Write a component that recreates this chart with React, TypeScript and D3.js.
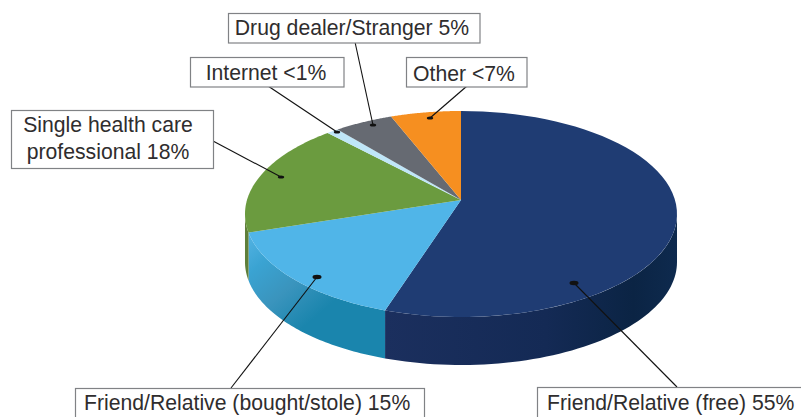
import React from "react";
import * as d3 from "d3";

const categories = ["Friend/Relative (free)", "Friend/Relative (bought/stole)", "Single health care professional", "Internet", "Drug dealer/Stranger", "Other"];
const values = [55, 15, 18, 1, 5, 6];
const topColors = ["#1f3c73", "#50b5e8", "#6b9b3f", "#bfe6f8", "#666a72", "#f68f20"];
const wallStops = [
  [["0", "#1b2f5e"], ["0.55", "#142a55"], ["0.85", "#0b2444"], ["1", "#0e2a4e"]],
  [["0", "#52b2e2"], ["0.22", "#3aa3d2"], ["0.5", "#3a94bd"], ["0.8", "#1a85ad"], ["1", "#1a85ad"]],
  [["0", "#5f7f3a"], ["1", "#5f7f3a"]],
  [["0", "#a5cfe0"], ["1", "#a5cfe0"]],
  [["0", "#50545a"], ["1", "#50545a"]],
  [["0", "#c87318"], ["1", "#c87318"]],
];
const labelLines = [
  ["Friend/Relative (free) 55%"],
  ["Friend/Relative (bought/stole) 15%"],
  ["Single health care", "professional 18%"],
  ["Internet <1%"],
  ["Drug dealer/Stranger 5%"],
  ["Other <7%"],
];

// annotation layout, same order as categories
const boxes = [
  { x: 537.5, y: 387.5, w: 270, h: 40 },
  { x: 75.5, y: 388.5, w: 349, h: 40 },
  { x: 11.5, y: 110.5, w: 202, h: 58 },
  { x: 190.5, y: 57.5, w: 153.5, h: 29.5 },
  { x: 228.5, y: 13.5, w: 251.5, h: 29.5 },
  { x: 406.5, y: 57.5, w: 120.5, h: 29.5 },
];
const textX = [547, 84, 108, 266, 352, 464];
const textY = [[410], [410], [131.5, 159], [80], [34.5], [81]];
const leaders = [
  [[677, 387], [574, 283]],
  [[231, 388], [317, 277]],
  [[213, 141], [281, 177]],
  [[268, 86], [337, 132]],
  [[355, 42], [373, 125]],
  [[467, 86], [430, 118]],
];
const wallGrad = [
  [385, 0, 677, 0],
  [250, 235, 335, 335],
  [245, 0, 262, 0],
  [330, 0, 340, 0],
  [340, 0, 391, 0],
  [391, 0, 461, 0],
];

const apexX = 461, apexY = 200;
const a = 214, b = 101.1, k = 0.1359;
const depth = 48;

// perspective projection of the unit disc onto the tilted pie plane
const project = (theta: number, r = 1): [number, number] => {
  const u = r * Math.sin(theta), v = -r * Math.cos(theta);
  const w = 1 - k * v;
  return [apexX + (a * u) / w, apexY + (b * v) / w];
};

// angles at which the projected rim is at its horizontal extremes
const rimRight = Math.acos(-k);
const rimLeft = 2 * Math.PI - rimRight;

const pie = d3.pie<number>().sort(null)(values);
const line = d3.line();

const arcPoints = (s: number, e: number) =>
  d3.range(0, 61).map((i) => project(s + ((e - s) * i) / 60));

export default function App() {
  return (
    <svg width={801} height={417} style={{ position: "absolute", left: 0, top: 0, background: "#fff" }}
      fontFamily="'Liberation Sans', Arial, sans-serif">
      <defs>
        {wallStops.map((stops, i) => (
          <linearGradient key={i} id={`w${i}`} gradientUnits="userSpaceOnUse"
            x1={wallGrad[i][0]} y1={wallGrad[i][1]} x2={wallGrad[i][2]} y2={wallGrad[i][3]}>
            {stops.map(([o, c]) => <stop key={o} offset={o} stopColor={c} />)}
          </linearGradient>
        ))}
      </defs>
      {pie.map((p, i) => {
        const s = Math.max(p.startAngle, rimRight), e = Math.min(p.endAngle, rimLeft);
        if (e <= s) return null;
        const pts = arcPoints(s, e);
        const low = pts.map(([x, y]) => [x, y + depth] as [number, number]).reverse();
        return <path key={i} d={line([...pts, ...low])! + "Z"} fill={`url(#w${i})`} />;
      })}
      {pie.map((p, i) => (
        <path key={i} d={line([[apexX, apexY], ...arcPoints(p.startAngle, p.endAngle)])! + "Z"} fill={topColors[i]} />
      ))}
      {categories.map((c, i) => {
        const [from, to] = leaders[i];
        return (
          <g key={c}>
            <line x1={from[0]} y1={from[1]} x2={to[0]} y2={to[1]} stroke="#111" strokeWidth={1.1} />
            <ellipse cx={to[0]} cy={to[1]} rx={i < 2 ? 4.5 : 3.2} ry={i < 2 ? 2.2 : 1.6} fill="#111" />
            <rect {...{ x: boxes[i].x, y: boxes[i].y, width: boxes[i].w, height: boxes[i].h }} fill="#fff" stroke="#808285" strokeWidth={1.2} />
            {labelLines[i].map((t, j) => (
              <text key={j} x={textX[i]} y={textY[i][j]} fontSize={21.2} fill="#2f2d2e"
                textAnchor={i >= 2 ? "middle" : "start"}>{t}</text>
            ))}
          </g>
        );
      })}
    </svg>
  );
}
